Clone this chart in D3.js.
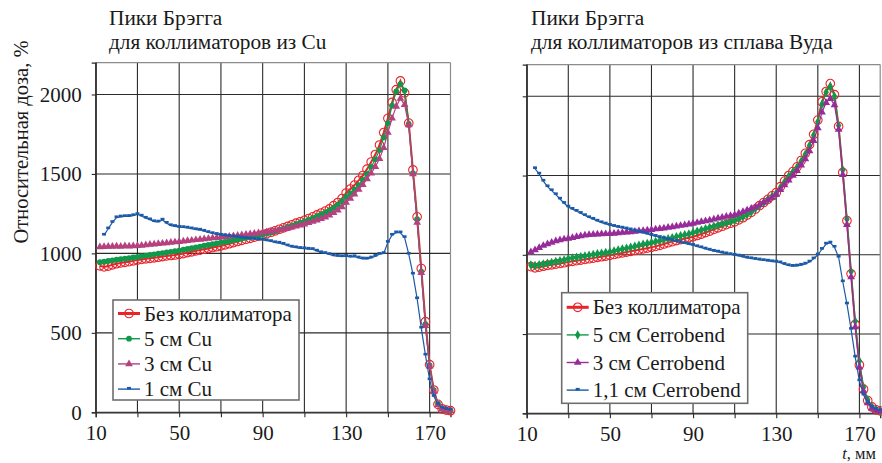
<!DOCTYPE html>
<html>
<head>
<meta charset="utf-8">
<script src="https://cdn.jsdelivr.net/npm/d3@7"></script>
<style>
  body { margin: 0; background: #fff; }
  svg { display: block; }
  text { font-family: "Liberation Serif", "Times New Roman", serif; fill: #1a1a1a; }
</style>
</head>
<body>
<div id="chart"></div>
<script>
// depth, mm (every 2 mm)
const depth = [
  12, 14, 16, 18, 20, 22, 24, 26, 28, 30,
  32, 34, 36, 38, 40, 42, 44, 46, 48, 50,
  52, 54, 56, 58, 60, 62, 64, 66, 68, 70,
  72, 74, 76, 78, 80, 82, 84, 86, 88, 90,
  92, 94, 96, 98, 100, 102, 104, 106, 108, 110,
  112, 114, 116, 118, 120, 122, 124, 126, 128, 130,
  132, 134, 136, 138, 140, 142, 144, 146, 148, 150,
  152, 154, 156, 158, 160, 162, 164, 166, 168, 170,
  172, 174, 176, 178, 180
];

// left panel: Cu collimators
const cuNone = [
  922, 915, 920, 928, 935, 940, 944, 948, 953, 958,
  962, 966, 969, 972, 976, 980, 984, 987, 990, 994,
  999, 1005, 1010, 1016, 1021, 1026, 1031, 1037, 1042, 1047,
  1054, 1061, 1068, 1075, 1082, 1089, 1095, 1102, 1109, 1116,
  1124, 1133, 1142, 1152, 1161, 1170, 1180, 1190, 1199, 1208,
  1219, 1230, 1242, 1254, 1266, 1280, 1300, 1320, 1345, 1380,
  1405, 1430, 1460, 1490, 1530, 1575, 1622, 1682, 1760, 1850,
  1950, 2030, 2085, 2010, 1820, 1525, 1230, 905, 570, 300,
  140, 50, 22, 14, 10
];
const cu5 = [
  945, 948, 952, 956, 960, 963, 967, 970, 974, 978,
  982, 986, 990, 994, 998, 1002, 1006, 1010, 1014, 1018,
  1023, 1028, 1033, 1038, 1043, 1048, 1053, 1058, 1063, 1068,
  1073, 1078, 1083, 1088, 1093, 1098, 1103, 1108, 1113, 1119,
  1125, 1132, 1140, 1148, 1157, 1166, 1175, 1184, 1193, 1202,
  1212, 1222, 1233, 1245, 1257, 1270, 1287, 1305, 1328, 1355,
  1378, 1402, 1430, 1462, 1500, 1545, 1592, 1650, 1730, 1820,
  1930, 2020, 2065, 2025, 1815, 1505, 1215, 885, 555, 295,
  140, 55, 22, 14, 10
];
const cu3 = [
  1040, 1042, 1044, 1043, 1045, 1044, 1046, 1045, 1047, 1048,
  1050, 1053, 1056, 1058, 1061, 1063, 1066, 1068, 1071, 1073,
  1076, 1079, 1082, 1085, 1087, 1090, 1093, 1096, 1098, 1101,
  1104, 1107, 1110, 1113, 1116, 1119, 1122, 1125, 1128, 1131,
  1135, 1139, 1143, 1148, 1153, 1158, 1164, 1170, 1177, 1184,
  1192, 1200, 1209, 1218, 1228, 1240, 1255, 1272, 1292, 1320,
  1345, 1372, 1402, 1432, 1468, 1505, 1545, 1595, 1665, 1760,
  1850, 1925, 1975, 1935, 1808, 1500, 1195, 878, 545, 290,
  132, 48, 20, 13, 10
];
const cu1 = [
  null, 1115, 1155, 1195, 1225, 1230, 1232, 1233, 1238, 1245,
  1235, 1222, 1212, 1200, 1198, 1210, 1190, 1175, 1170, 1165,
  1163, 1160, 1155, 1150, 1147, 1140, 1132, 1125, 1120, 1115,
  1112, 1108, 1105, 1102, 1098, 1095, 1092, 1090, 1087, 1085,
  1080, 1075, 1068, 1065, 1058, 1048, 1040, 1036, 1032, 1030,
  1027, 1025, 1015, 1005, 1000, 993, 985, 982, 980, 982,
  978, 980, 972, 966, 965, 972, 982, 995, 1000, 1070,
  1115, 1130, 1130, 1100, 995, 870, 715, 530, 360, 205,
  100, 50, 28, 20, 15
];

// right panel: Wood's alloy (Cerrobend) collimators
const woodNone = [
  925, 918, 922, 928, 933, 937, 941, 945, 950, 955,
  959, 963, 967, 971, 975, 979, 984, 988, 992, 997,
  1002, 1007, 1012, 1017, 1022, 1027, 1032, 1037, 1042, 1047,
  1053, 1060, 1068, 1076, 1083, 1090, 1096, 1102, 1108, 1114,
  1122, 1131, 1140, 1150, 1160, 1170, 1180, 1190, 1199, 1208,
  1220, 1234, 1250, 1268, 1288, 1310, 1330, 1350, 1372, 1392,
  1430, 1465, 1500, 1525, 1555, 1595, 1640, 1695, 1760, 1850,
  1965, 2030, 2080, 2010, 1810, 1520, 1215, 880, 560, 305,
  152, 80, 40, 22, 15
];
const wood5 = [
  935, 932, 937, 942, 947, 952, 957, 962, 967, 975,
  980, 984, 988, 992, 997, 1002, 1006, 1010, 1014, 1018,
  1024, 1030, 1036, 1042, 1048, 1054, 1060, 1066, 1072, 1078,
  1084, 1090, 1096, 1102, 1108, 1114, 1120, 1126, 1132, 1140,
  1148, 1156, 1164, 1172, 1180, 1187, 1194, 1201, 1209, 1217,
  1228, 1240, 1254, 1270, 1290, 1310, 1330, 1350, 1370, 1388,
  1425, 1460, 1495, 1522, 1552, 1590, 1635, 1690, 1755, 1840,
  1950, 2025, 2062, 2000, 1815, 1535, 1225, 895, 580, 330,
  165, 85, 42, 22, 14
];
const wood3 = [
  1018, 1030, 1045, 1058, 1068, 1078, 1087, 1094, 1099, 1103,
  1108, 1114, 1119, 1123, 1126, 1128, 1130, 1131, 1132, 1133,
  1135, 1137, 1140, 1142, 1144, 1147, 1150, 1152, 1155, 1158,
  1162, 1165, 1168, 1172, 1176, 1180, 1184, 1188, 1193, 1198,
  1203, 1208, 1213, 1218, 1224, 1230, 1236, 1242, 1247, 1252,
  1262, 1272, 1282, 1292, 1302, 1315, 1330, 1345, 1362, 1380,
  1410, 1440, 1470, 1500, 1530, 1565, 1605, 1655, 1720, 1800,
  1900, 1960, 1985, 1945, 1790, 1505, 1190, 860, 545, 290,
  140, 65, 32, 18, 12
];
const wood11 = [
  null, 1544, 1510, 1465, 1430, 1405, 1380, 1352, 1325, 1302,
  1288, 1275, 1262, 1248, 1235, 1225, 1213, 1203, 1195, 1187,
  1180, 1174, 1169, 1164, 1158, 1151, 1144, 1138, 1131, 1124,
  1117, 1110, 1103, 1096, 1090, 1084, 1078, 1072, 1066, 1060,
  1052, 1045, 1037, 1030, 1023, 1018, 1012, 1007, 1002, 998,
  993, 987, 980, 976, 972, 968, 964, 961, 957, 955,
  950, 940, 932, 928, 930, 935, 942, 955, 975, 1000,
  1035, 1068, 1075, 1048, 985, 830, 690, 530, 355, 205,
  115, 68, 40, 25, 18
];

const xTicks = [10, 30, 50, 70, 90, 110, 130, 150, 170];
const xLabels = [10, 50, 90, 130, 170];
const yTicks = [0, 500, 1000, 1500, 2000];

const cuLegend = ["Без коллиматора", "5 см Cu", "3 см Cu", "1 см Cu"];
const woodLegend = ["Без коллиматора", "5 см Cerrobend", "3 см Cerrobend", "1,1 см Cerrobend"];

const W = 882, H = 463;
const FS = 21;
const svg = d3.select("#chart").append("svg").attr("width", W).attr("height", H);

function marker(sel, kind, color) {
    if (kind === "ring") {
        sel.append("circle").attr("r", 4.3).attr("fill", "none")
            .attr("stroke", color).attr("stroke-width", 1.1);
    } else if (kind === "dot") {
        sel.append("circle").attr("r", 2.9).attr("fill", color);
    } else if (kind === "dash") {
        sel.append("rect").attr("x", -2).attr("y", -2.2).attr("width", 4).attr("height", 2.6).attr("fill", color);
    } else {
        let type = kind === "diamond" ? d3.symbolDiamond : d3.symbolTriangle;
        sel.append("path").attr("d", d3.symbol().type(type).size(26)()).attr("fill", color);
    }
}

function drawPanel(p) {
    let x = d3.scaleLinear().domain([10, 180]).range([p.left, p.right]);
    let y = d3.scaleLinear().domain([0, 2200]).range([p.bottom, p.top]);
    let g = svg.append("g");

    // grid
    g.append("g").selectAll("line").data(xTicks).join("line")
        .attr("x1", d => x(d)).attr("x2", d => x(d))
        .attr("y1", y(0)).attr("y2", y(2200))
        .attr("stroke", "#2b2b2b").attr("stroke-width", 1.1);
    g.append("g").selectAll("line").data(yTicks).join("line")
        .attr("x1", x(10)).attr("x2", x(180))
        .attr("y1", d => y(d)).attr("y2", d => y(d))
        .attr("stroke", "#2b2b2b").attr("stroke-width", 1.1);
    // outer frame (top and right lighter)
    g.append("line").attr("x1", x(10)).attr("x2", x(180)).attr("y1", y(2200)).attr("y2", y(2200))
        .attr("stroke", "#8c8c8c").attr("stroke-width", 1.2);
    g.append("line").attr("x1", x(180)).attr("x2", x(180)).attr("y1", y(0)).attr("y2", y(2200))
        .attr("stroke", "#8c8c8c").attr("stroke-width", 1.2);

    // axes
    let ax = g.append("g").attr("transform", `translate(0,${y(0)})`)
        .call(d3.axisBottom(x).tickValues(xTicks).tickSize(5).tickPadding(7.5)
            .tickFormat(d => xLabels.includes(d) ? d : ""));
    let ay = g.append("g").attr("transform", `translate(${x(10)},0)`)
        .call(d3.axisLeft(y).tickValues(yTicks).tickSize(4).tickPadding(10)
            .tickFormat(d => p.yLabels ? d : ""));
    for (let a of [ax, ay]) {
        a.select(".domain").attr("stroke", "#2b2b2b").attr("stroke-width", 1.3);
        a.selectAll(".tick line").attr("stroke", "#2b2b2b").attr("stroke-width", 1.1);
        a.selectAll(".tick text").attr("font-family", "Liberation Serif, serif")
            .attr("font-size", FS).attr("fill", "#1a1a1a");
    }

    // series
    let line = d3.line().defined(d => d[1] != null).x(d => x(d[0])).y(d => y(d[1]));
    for (let s of p.series) {
        let pts = depth.map((d, i) => [d, s.values[i]]);
        g.append("path").datum(pts).attr("d", line)
            .attr("fill", "none").attr("stroke", s.color).attr("stroke-width", s.width);
        let m = g.append("g").selectAll("g").data(pts.filter(d => d[1] != null)).join("g")
            .attr("transform", d => `translate(${x(d[0])},${y(d[1])})`);
        marker(m, s.marker, s.color);
    }

    // title
    let t = g.append("text").attr("x", p.titleX).attr("y", 25).attr("font-size", 21.3);
    t.append("tspan").attr("x", p.titleX).text(p.title[0]);
    t.append("tspan").attr("x", p.titleX).attr("y", 48.5).text(p.title[1]);

    // legend
    let lg = p.legend;
    g.append("rect").attr("x", lg.x).attr("y", lg.y).attr("width", lg.w).attr("height", lg.h)
        .attr("fill", "#fff").attr("stroke", "#6e6e6e").attr("stroke-width", 1.6);
    p.series.forEach((s, i) => {
        let cy = lg.y + lg.first + i * lg.step;
        g.append("line").attr("x1", lg.x + 5).attr("x2", lg.x + 27).attr("y1", cy).attr("y2", cy)
            .attr("stroke", s.color).attr("stroke-width", i === 0 ? 3 : 1.4);
        let m = g.append("g").attr("transform", `translate(${lg.x + 16},${cy})`);
        marker(m, s.marker, s.color);
        g.append("text").attr("x", lg.x + 31).attr("y", cy + 7).attr("font-size", FS).text(p.legendText[i]);
    });
}

drawPanel({
    left: 95.7, right: 450.5, top: 62.7, bottom: 412.3, yLabels: true, titleX: 109,
    title: ["Пики Брэгга", "для коллиматоров из Cu"],
    legendText: cuLegend,
    legend: { x: 113, y: 300, w: 186, h: 100, first: 13.5, step: 25.2 },
    series: [
        { values: cuNone, color: "#e8242b", width: 2, marker: "ring" },
        { values: cu5, color: "#11994b", width: 1.2, marker: "dot" },
        { values: cu3, color: "#b5417f", width: 1.2, marker: "triangle" },
        { values: cu1, color: "#1c5aa8", width: 1.2, marker: "dash" }
    ]
});

drawPanel({
    left: 526.7, right: 880.2, top: 64.6, bottom: 413.3, yLabels: false, titleX: 531,
    title: ["Пики Брэгга", "для коллиматоров из сплава Вуда"],
    legendText: woodLegend,
    legend: { x: 561.7, y: 292.7, w: 186, h: 110.6, first: 14.6, step: 27.6 },
    series: [
        { values: woodNone, color: "#e8242b", width: 2, marker: "ring" },
        { values: wood5, color: "#11994b", width: 1.2, marker: "diamond" },
        { values: wood3, color: "#962c99", width: 1.2, marker: "triangle" },
        { values: wood11, color: "#1c5aa8", width: 1.2, marker: "dash" }
    ]
});

// y-axis title
svg.append("text").attr("transform", "translate(28,142) rotate(-90)")
    .attr("text-anchor", "middle").attr("font-size", 20.5).text("Относительная доза, %");

// x-axis unit
let unit = svg.append("text").attr("x", 876).attr("y", 459.3).attr("text-anchor", "end").attr("font-size", 16.5);
unit.append("tspan").attr("font-style", "italic").text("t");
unit.append("tspan").text(", мм");
</script>
</body>
</html>
